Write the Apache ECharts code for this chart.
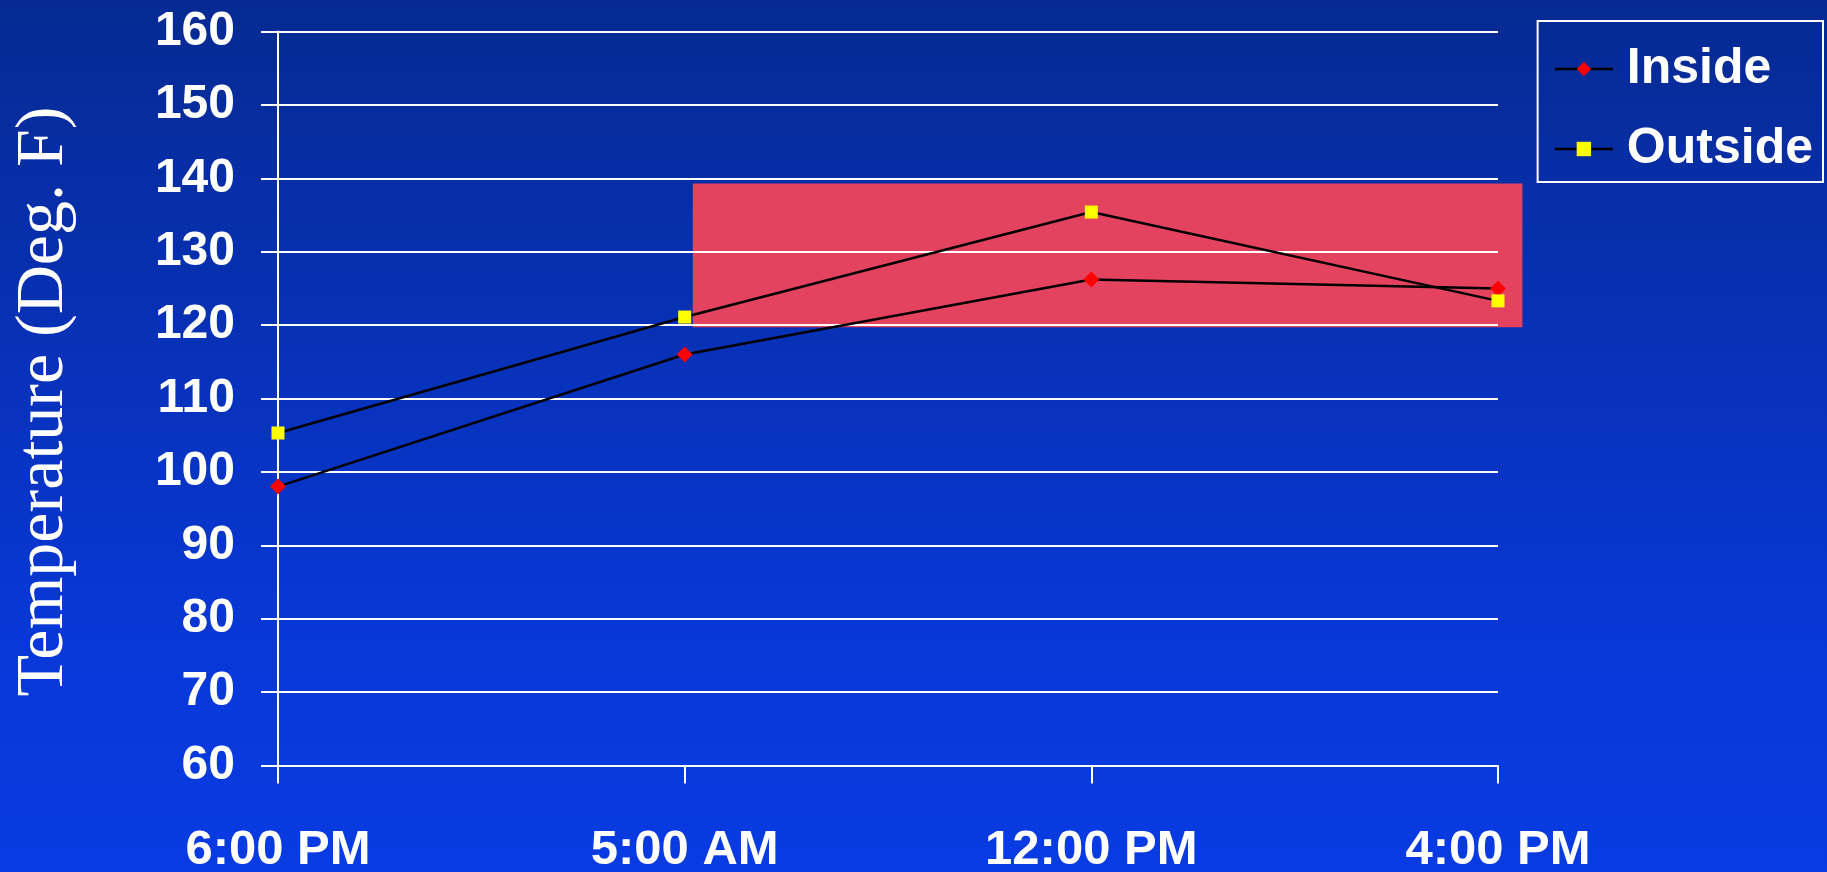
<!DOCTYPE html>
<html>
<head>
<meta charset="utf-8">
<script src="https://cdn.jsdelivr.net/npm/echarts@6/dist/echarts.min.js"></script>
<style>
  html, body { margin: 0; padding: 0; }
  body { background: linear-gradient(to bottom, #062A92 0%, #0838D8 75%, #083BE2 100%); }
  #chart { width: 1827px; height: 872px; }
</style>
</head>
<body>
<div id="chart"></div>
<script>
const categories = ['6:00 PM', '5:00 AM', '12:00 PM', '4:00 PM'];
const insideTemps = [98, 116, 126.2, 125];
const outsideTemps = [105.3, 121.1, 135.4, 123.3];
const yTicks = { min: 60, max: 160, step: 10 };
const bandX = [1.02, 3.06];      // category-position span of highlighted band
const bandY = [119.7, 139.3];    // temperature span of highlighted band

const chart = echarts.init(document.getElementById('chart'), null, { renderer: 'canvas' });
const labelFont = 'Liberation Sans, Arial, sans-serif';

chart.setOption({
  backgroundColor: 'transparent',
  animation: false,
  grid: { left: 278, right: 329, top: 31.5, bottom: 106.5, containLabel: false, outerBoundsMode: 'none' },
  legend: {
    show: true,
    orient: 'vertical',
    right: 4,
    top: 21,
    data: ['Inside', 'Outside'],
    backgroundColor: 'transparent',
    borderColor: '#ffffff',
    borderWidth: 2,
    padding: [23, 10, 8, 16],
    itemWidth: 58,
    itemHeight: 18,
    itemGap: 30,
    lineStyle: { width: 2.5, color: '#000000' },
    textStyle: {
      color: '#ffffff',
      fontFamily: labelFont,
      fontWeight: 'bold',
      fontSize: 50,
      lineHeight: 50,
      padding: [0, 0, 0, 9]
    }
  },
  xAxis: [{
    type: 'category',
    data: categories,
    boundaryGap: false,
    axisLine: { show: true, lineStyle: { color: '#ffffff', width: 2 } },
    axisTick: { show: true, alignWithLabel: true, length: 18, lineStyle: { color: '#ffffff', width: 2 } },
    splitLine: { show: false },
    axisLabel: {
      color: '#ffffff',
      fontFamily: labelFont,
      fontWeight: 'bold',
      fontSize: 49,
      margin: 60
    }
  }, {
    type: 'value',
    min: 0,
    max: 3,
    show: false
  }],
  yAxis: {
    type: 'value',
    min: yTicks.min,
    max: yTicks.max,
    interval: yTicks.step,
    name: 'Temperature (Deg. F)',
    nameLocation: 'middle',
    nameGap: 200,
    nameRotate: 90,
    nameTextStyle: {
      color: '#ffffff',
      fontFamily: 'Liberation Serif, Times New Roman, serif',
      fontSize: 68,
      padding: [0, 6, 0, 0]
    },
    axisLine: { show: true, lineStyle: { color: '#ffffff', width: 2 } },
    axisTick: { show: true, length: 17, lineStyle: { color: '#ffffff', width: 2 } },
    splitLine: { show: true, lineStyle: { color: '#ffffff', width: 2 } },
    axisLabel: {
      color: '#ffffff',
      fontFamily: labelFont,
      fontWeight: 'bold',
      fontSize: 48,
      margin: 43
    }
  },
  series: [{
    type: 'custom',
    name: 'band',
    xAxisIndex: 1,
    z: -1,
    clip: false,
    silent: true,
    data: [[bandX[0], bandX[1], bandY[0], bandY[1]]],
    renderItem: function (params, api) {
      const p0 = api.coord([api.value(0), api.value(3)]);
      const p1 = api.coord([api.value(1), api.value(2)]);
      return {
        type: 'rect',
        shape: { x: p0[0], y: p0[1], width: p1[0] - p0[0], height: p1[1] - p0[1] },
        style: { fill: '#E4435F' }
      };
    }
  }, {
    type: 'line',
    name: 'Inside',
    data: insideTemps,
    symbol: 'diamond',
    symbolSize: 16,
    itemStyle: { color: '#FF0000' },
    lineStyle: { color: '#000000', width: 2.5 },
    z: 3
  }, {
    type: 'line',
    name: 'Outside',
    data: outsideTemps,
    symbol: 'rect',
    symbolSize: 13,
    itemStyle: { color: '#FFFF00' },
    lineStyle: { color: '#000000', width: 2.5 },
    z: 4
  }]
});
</script>
</body>
</html>
